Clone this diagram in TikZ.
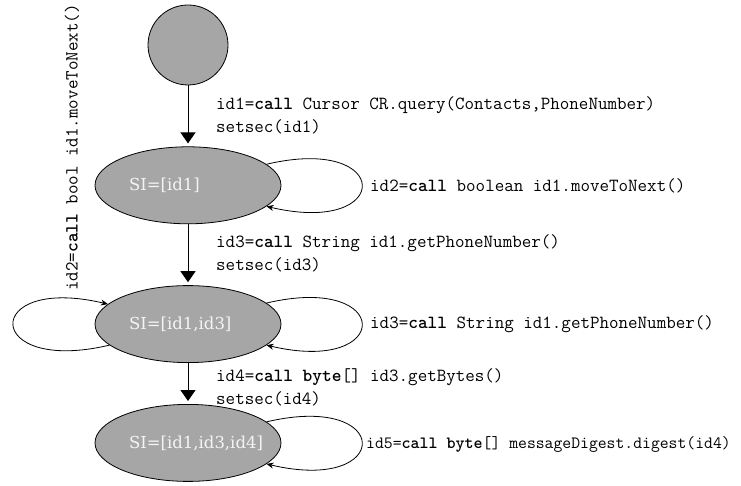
\documentclass[tikz,border=0pt]{standalone}
\usepackage{fontspec}
\setmainfont{DejaVu Serif}
\usetikzlibrary{arrows.meta,positioning,shapes.geometric}
\definecolor{stategray}{HTML}{A6A6A6}
\definecolor{statetext}{HTML}{F4F4F4}
\tikzset{
  start/.style={circle,draw=black,fill=stategray,minimum size=80pt,inner sep=0pt,line width=0.8pt},
  state/.style={ellipse,draw=black,fill=stategray,minimum width=186pt,minimum height=77pt,
    inner xsep=-10pt,inner ysep=0pt,line width=0.8pt,text=statetext,font=\fontsize{16.5}{20}\selectfont},
  trans/.style={-{Triangle[length=11pt,width=15pt]},line width=1pt,shorten >=3pt},
  selfloop/.style={-{Stealth[length=7pt,width=6pt]},line width=0.8pt},
  lbl/.style={align=left,font=\ttfamily\fontsize{18.5}{23}\selectfont,inner sep=0pt}
}
\newcommand{\kw}[1]{\textbf{#1}}
\newcommand{\stlabel}[1]{\makebox[118pt][l]{#1}}

\begin{document}
\begin{tikzpicture}[x=1pt,y=1pt]
\useasboundingbox (0,0) rectangle (741,485);
\node[start] (init) at (188,440) {};
\node[state,below=61pt of init] (s1) {\stlabel{SI=[id1]}};
\node[state,below=61pt of s1] (s2) {\stlabel{SI=[id1,id3]}};
\node[state,below=41pt of s2] (s3) {\stlabel{SI=[id1,id3,id4]}};
\draw[trans] (init) -- (s1); \draw[trans] (s1) -- (s2); \draw[trans] (s2) -- (s3);
% self loops
\draw[selfloop] (s1.15) .. controls +(127,30) and +(127,-30) .. (s1.-15);
\draw[selfloop] (s2.15) .. controls +(127,30) and +(127,-30) .. (s2.-15);
\draw[selfloop] (s3.15) .. controls +(127,30) and +(127,-30) .. (s3.-15);
\draw[selfloop] (s2.195) .. controls +(-127,-30) and +(-127,30) .. (s2.166);
% labels
\node[lbl,anchor=west] (l1) at (216,369.5) {id1=\kw{call} Cursor CR.query(Contacts,PhoneNumber)\\setsec(id1)};
\node[lbl,anchor=west] (l3) at (216,231.5) {id3=\kw{call} String id1.getPhoneNumber()\\setsec(id3)};
\node[lbl,anchor=west] (l4) at (216,98) {id4=\kw{call} \kw{byte}[] id3.getBytes()\\setsec(id4)};
\node[lbl,anchor=west] (l2) at (370,299) {id2=\kw{call} boolean id1.moveToNext()};
\node[lbl,anchor=west] (l5) at (370,161) {id3=\kw{call} String id1.getPhoneNumber()};
\node[lbl,anchor=west,font=\ttfamily\fontsize{17.2}{23}\selectfont] (l6) at (366,41) {id5=\kw{call} \kw{byte}[] messageDigest.digest(id4)};
\node[lbl,rotate=90] (l7) at (72,337.5) {id2=\kw{call} bool id1.moveToNext()};
\end{tikzpicture}
\end{document}
